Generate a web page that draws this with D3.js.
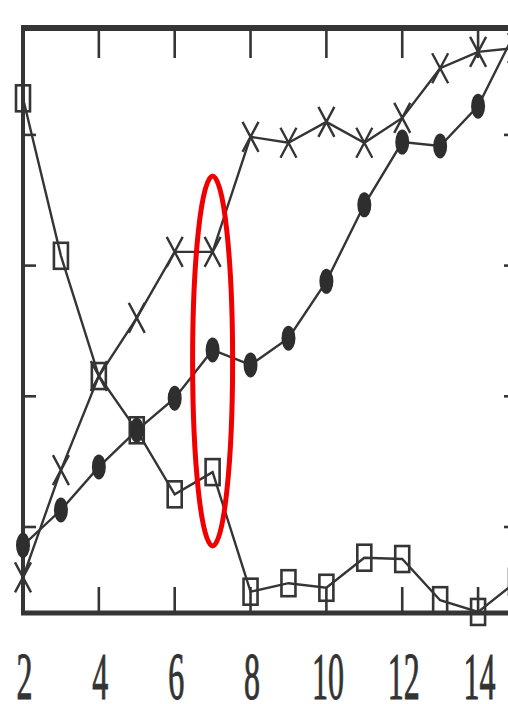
<!DOCTYPE html>
<html>
<head>
<meta charset="utf-8">
<script src="https://cdn.jsdelivr.net/npm/d3@7"></script>
<style>
  html, body { margin: 0; padding: 0; background: #fff; }
  svg { display: block; }
  .tick-label { font-family: "Liberation Serif", "DejaVu Serif", serif; font-size: 32px; fill: #333; stroke: #333; stroke-width: 0.5px; }
</style>
</head>
<body>
<div id="chart"></div>
<script>
// x values shared by all three series
const xValues = [2, 3, 4, 5, 6, 7, 8, 9, 10, 11, 12, 13, 14, 15];

// Open squares
const squareSeries = [85.6, 61.5, 43.1, 34.8, 25.0, 28.4, 10.1, 11.4, 10.7, 15.3, 15.1, 8.8, 7.0, 11.6];
// Crosses
const crossSeries = [12.3, 28.7, 43.1, 52.0, 62.1, 62.1, 79.7, 78.8, 82.0, 78.8, 82.6, 90.2, 92.7, 93.3];
// Filled dots
const dotSeries = [17.2, 22.6, 29.2, 34.8, 39.7, 47.1, 44.8, 48.9, 57.6, 69.3, 78.9, 78.3, 84.4, 96.0];

const xTicks = [2, 4, 6, 8, 10, 12, 14];
const yTicks = [20, 40, 60, 80];

// red ellipse drawn around the x = 7 readings
const highlight = { x: 7, yTop: 73.7, yBottom: 17.1 };

const width = 508, height = 704;
const margin = { left: 23, top: 28, bottom: 91 };

const svg = d3.select('#chart').append('svg')
    .attr('width', width)
    .attr('height', height);

const x = d3.scaleLinear().domain([2, 15]).range([margin.left, 516]);
const y = d3.scaleLinear().domain([6.84, 96.36]).range([height - margin.bottom, margin.top]);

const ink = '#353535';

// inward tick marks on all four sides
const ticksG = svg.append('g').attr('stroke', ink).attr('stroke-width', 2.6);
xTicks.filter(d => d !== 2).forEach(d => {
    ticksG.append('line').attr('x1', x(d)).attr('x2', x(d))
        .attr('y1', y.range()[0]).attr('y2', y.range()[0] - 26);
    ticksG.append('line').attr('x1', x(d)).attr('x2', x(d))
        .attr('y1', y.range()[1]).attr('y2', y.range()[1] + 30);
});
yTicks.forEach(d => {
    ticksG.append('line').attr('x1', x(2)).attr('x2', x(2) + 13)
        .attr('y1', y(d)).attr('y2', y(d));
    ticksG.append('line').attr('x1', x(15)).attr('x2', x(15) - 12)
        .attr('y1', y(d)).attr('y2', y(d));
});

// frame
svg.append('line').attr('x1', x(2) - 2).attr('x2', width).attr('y1', y.range()[1]).attr('y2', y.range()[1])
    .attr('stroke', ink).attr('stroke-width', 6);
svg.append('line').attr('x1', x(2) - 2).attr('x2', width).attr('y1', y.range()[0]).attr('y2', y.range()[0])
    .attr('stroke', ink).attr('stroke-width', 5);
svg.append('line').attr('x1', x(2)).attr('x2', x(2)).attr('y1', y.range()[1]).attr('y2', y.range()[0])
    .attr('stroke', ink).attr('stroke-width', 4);

// tick labels (tall, narrow serif digits)
svg.append('g').selectAll('text')
    .data(xTicks)
    .enter()
    .append('text')
    .attr('class', 'tick-label')
    .attr('text-anchor', 'middle')
    .attr('transform', d => `translate(${x(d) + 1.5}, 699) scale(1, 2.1)`)
    .text(d => d);

const line = d3.line().x(d => x(d[0])).y(d => y(d[1]));
const zip = vals => xValues.map((v, i) => [v, vals[i]]);

const plot = svg.append('g');
[squareSeries, crossSeries, dotSeries].forEach(s => {
    plot.append('path')
        .datum(zip(s))
        .attr('d', line)
        .attr('fill', 'none')
        .attr('stroke', ink)
        .attr('stroke-width', 2.4);
});

// markers
plot.selectAll('.sq')
    .data(zip(squareSeries))
    .enter()
    .append('rect')
    .attr('class', 'sq')
    .attr('x', d => x(d[0]) - 7)
    .attr('y', d => y(d[1]) - 13)
    .attr('width', 14)
    .attr('height', 26)
    .attr('fill', 'none')
    .attr('stroke', ink)
    .attr('stroke-width', 2.6);

plot.selectAll('.cr')
    .data(zip(crossSeries))
    .enter()
    .append('path')
    .attr('class', 'cr')
    .attr('transform', d => `translate(${x(d[0])}, ${y(d[1])})`)
    .attr('d', 'M-8,-15 L8,15 M8,-15 L-8,15')
    .attr('fill', 'none')
    .attr('stroke', ink)
    .attr('stroke-width', 2.4);

plot.selectAll('.dt')
    .data(zip(dotSeries))
    .enter()
    .append('ellipse')
    .attr('class', 'dt')
    .attr('cx', d => x(d[0]))
    .attr('cy', d => y(d[1]))
    .attr('rx', 7)
    .attr('ry', 12.5)
    .attr('fill', '#2e2e2e');

// red annotation ellipse
svg.append('ellipse')
    .attr('cx', x(highlight.x))
    .attr('cy', (y(highlight.yTop) + y(highlight.yBottom)) / 2)
    .attr('rx', 20)
    .attr('ry', (y(highlight.yBottom) - y(highlight.yTop)) / 2)
    .attr('fill', 'none')
    .attr('stroke', '#f00000')
    .attr('stroke-width', 5);
</script>
</body>
</html>
